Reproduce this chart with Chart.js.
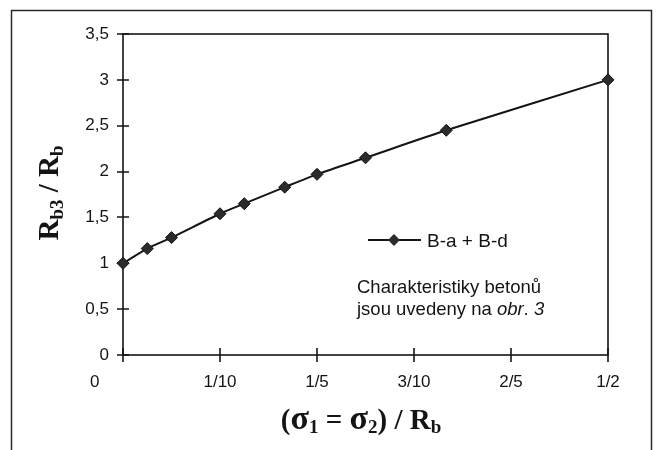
<!DOCTYPE html>
<html><head><meta charset="utf-8">
<script src="https://cdn.jsdelivr.net/npm/chart.js@4.4.1/dist/chart.umd.min.js"></script>
<style>html,body{margin:0;padding:0;background:#fff;}#wrap{width:658px;height:450px;}</style>
</head><body><div id="wrap"><canvas id="c" width="658" height="450"></canvas></div>
<script>
// ---- data ----
const xValues = [0, 0.025, 0.05, 0.1, 0.125, 0.1667, 0.2, 0.25, 0.3333, 0.5];
const yValues = [1.0, 1.16, 1.28, 1.54, 1.65, 1.83, 1.97, 2.15, 2.45, 3.0];
const seriesName = 'B-a + B-d';
const xTickLabels = ['0', '1/10', '1/5', '3/10', '2/5', '1/2'];
const noteLine1 = 'Charakteristiky betonů';
const noteLine2 = ['jsou uvedeny na ', 'obr', '. ', '3'];

const INK = '#141414';
const points = xValues.map((x, i) => ({x, y: yValues[i]}));

function drawRich(ctx, parts, x, y) {
  let w = 0;
  parts.forEach(p => { ctx.font = p.font; p.w = ctx.measureText(p.t).width; w += p.w; });
  let cx = x - w / 2;
  parts.forEach(p => { ctx.font = p.font; ctx.fillText(p.t, cx, y + (p.dy || 0)); cx += p.w; });
}

const decor = {
  id: 'decor',
  beforeDraw(chart) {
    const ctx = chart.ctx;
    ctx.save();
    ctx.fillStyle = '#fff';
    ctx.fillRect(0, 0, chart.width, chart.height);
    ctx.strokeStyle = '#2a2a2a';
    ctx.lineWidth = 1.5;
    ctx.beginPath();
    ctx.moveTo(11.5, 460); ctx.lineTo(11.5, 10.5); ctx.lineTo(651.5, 10.5); ctx.lineTo(651.5, 460);
    ctx.stroke();
    ctx.restore();
  },
  beforeDatasetsDraw(chart) {
    const ctx = chart.ctx, a = chart.chartArea;
    const xs = chart.scales.x, ys = chart.scales.y;
    ctx.save();
    ctx.strokeStyle = INK;
    ctx.lineWidth = 1.6;
    ctx.strokeRect(a.left, a.top, a.right - a.left, a.bottom - a.top);
    ctx.beginPath();
    ys.ticks.forEach(t => {
      const py = Math.round(ys.getPixelForValue(t.value));
      ctx.moveTo(a.left - 6, py); ctx.lineTo(a.left + 6, py);
    });
    xs.ticks.forEach(t => {
      const px = Math.round(xs.getPixelForValue(t.value));
      ctx.moveTo(px, a.bottom - 7); ctx.lineTo(px, a.bottom + 7);
    });
    ctx.stroke();
    ctx.restore();
  },
  afterDraw(chart) {
    const ctx = chart.ctx;
    ctx.save();
    ctx.fillStyle = INK;
    ctx.textBaseline = 'alphabetic';
    // y title
    ctx.save();
    ctx.translate(46, 193);
    ctx.rotate(-Math.PI / 2);
    const big = 'bold 29px "Liberation Serif"', sm = 'bold 19px "Liberation Serif"';
    drawRich(ctx, [
      {t: 'R', font: big}, {t: 'b3', font: sm, dy: 5}, {t: ' / ', font: big},
      {t: 'R', font: big}, {t: 'b', font: sm, dy: 5}
    ], 0, 12);
    ctx.restore();
    // x title
    const bx = 'bold 29px "Liberation Serif"', sg = 'bold 34px "Liberation Serif"', sx = 'bold 19px "Liberation Serif"';
    drawRich(ctx, [
      {t: '(', font: bx}, {t: 'σ', font: sg}, {t: '1', font: sx, dy: 4}, {t: ' = ', font: bx},
      {t: 'σ', font: sg}, {t: '2', font: sx, dy: 4}, {t: ') / R', font: bx}, {t: 'b', font: sx, dy: 4}
    ], 361, 429);
    // legend
    const ds = chart.data.datasets[0];
    ctx.strokeStyle = INK; ctx.lineWidth = 2;
    ctx.beginPath(); ctx.moveTo(368, 240); ctx.lineTo(421, 240); ctx.stroke();
    ctx.beginPath();
    ctx.moveTo(394, 234); ctx.lineTo(400, 240); ctx.lineTo(394, 246); ctx.lineTo(388, 240); ctx.closePath();
    ctx.fillStyle = ds.backgroundColor; ctx.fill();
    ctx.fillStyle = INK;
    ctx.font = '19px "Liberation Sans"';
    ctx.fillText(ds.label, 427, 247);
    // note
    const f = '18.5px "Liberation Sans"', fi = 'italic 18.5px "Liberation Sans"';
    ctx.font = f;
    ctx.fillText(noteLine1, 357, 293);
    let cx = 357;
    const fonts = [f, fi, f, fi];
    noteLine2.forEach((t, i) => { ctx.font = fonts[i]; ctx.fillText(t, cx, 315); cx += ctx.measureText(t).width; });
    ctx.restore();
  }
};

new Chart(document.getElementById('c'), {
  type: 'line',
  data: {
    datasets: [{
      label: seriesName,
      data: points,
      borderColor: INK,
      borderWidth: 2,
      backgroundColor: '#2b2b2b',
      pointStyle: 'rectRot',
      pointRadius: 6,
      pointBorderColor: INK,
      pointBorderWidth: 1,
      tension: 0.25,
      clip: false
    }]
  },
  options: {
    responsive: false,
    animation: false,
    devicePixelRatio: 1,
    layout: {padding: {left: 0, top: 34, right: 50, bottom: 0}},
    plugins: {legend: {display: false}, tooltip: {enabled: false}},
    scales: {
      x: {
        type: 'linear', min: 0, max: 0.5,
        grid: {display: false, drawTicks: false},
        border: {display: false},
        afterFit: s => { s.height = 95; },
        ticks: {
          stepSize: 0.1, autoSkip: false, maxRotation: 0, padding: 17,
          color: INK, font: {family: '"Liberation Sans"', size: 17},
          callback: v => {
            const lab = xTickLabels[Math.round(v * 10)];
            return lab === '0' ? '0' + ' '.repeat(12) : lab;
          }
        }
      },
      y: {
        type: 'linear', min: 0, max: 3.5,
        grid: {display: false, drawTicks: false},
        border: {display: false},
        afterFit: s => { s.width = 123; },
        ticks: {
          stepSize: 0.5, padding: 14,
          color: INK, font: {family: '"Liberation Sans"', size: 17},
          callback: v => String(v).replace('.', ',')
        }
      }
    }
  },
  plugins: [decor]
});
</script></body></html>
